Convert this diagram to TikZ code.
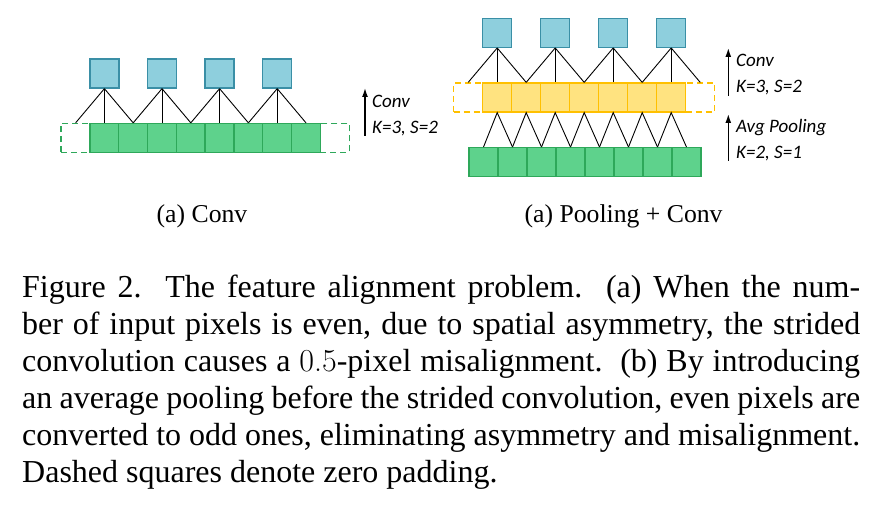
\documentclass[tikz,border=0pt]{standalone}
\usepackage{fontspec}
\setmainfont{Liberation Serif}
\newfontfamily\calibri{Carlito}
\newfontfamily\lmr{Latin Modern Roman}
\usetikzlibrary{arrows.meta}

\definecolor{cellblue}{HTML}{8ECFDD}
\definecolor{cellblueline}{HTML}{3A8FA6}
\definecolor{cellgreen}{HTML}{5ED28C}
\definecolor{cellgreenline}{HTML}{2EA85A}
\definecolor{cellyellow}{HTML}{FFE380}
\definecolor{cellyellowline}{HTML}{FFC000}

\tikzset{
  cell/.style={rectangle, minimum size=29pt, inner sep=0pt, line width=1.3pt},
  bluecell/.style={cell, fill=cellblue, draw=cellblueline},
  greencell/.style={cell, fill=cellgreen, draw=cellgreenline},
  yellowcell/.style={cell, fill=cellyellow, draw=cellyellowline},
  greenpad/.style={cell, draw=cellgreenline, dash pattern=on 6pt off 4pt},
  yellowpad/.style={cell, draw=cellyellowline, dash pattern=on 6pt off 4pt},
  link/.style={line width=0.9pt},
  opname/.style={font=\calibri\itshape\fontsize{19}{23}\selectfont, anchor=base west, inner sep=0pt},
  subcap/.style={font=\fontsize{25.7}{30}\selectfont, anchor=base, inner sep=0pt},
  uparrow/.style={-{Latex[length=9pt,width=6pt]}, line width=1.4pt}
}

\begin{document}
\begin{tikzpicture}[x=1pt,y=-1pt]
    \useasboundingbox (0,0) rectangle (889,508);

    % (a) Conv: padded input row
    \node[greenpad] (lg0) at (75.6,138) {};
    \node[greenpad] (lg9) at (334.8,138) {};
    \foreach \i in {1,...,8}
        \node[greencell] (lg\i) at ({75.6+28.8*\i},138) {};

    % (a) Conv: output row
    \foreach \k in {1,...,4}
        \node[bluecell] (lb\k) at ({46.8+57.6*\k},73.5) {};

    % Conv kernel links
    \foreach \k in {1,...,4}
        \foreach \d in {-2,-1,0} {
            \pgfmathtruncatemacro\j{2*\k+\d}
            \draw[link] (lb\k.south) -- (lg\j.north);
        }

    % Conv label
    \coordinate (la0) at (365,136);
    \coordinate (la1) at (365,88);
    \draw[uparrow] (la0) -- (la1);
    \node[opname] (lconv) at (372,108) {Conv};
    \node[opname] (lks) at (372,134) {K=3, S=2};

    % (b) Pooling + Conv: pooled row with padding
    \node[yellowpad] (ry0) at (468.2,97.5) {};
    \node[yellowpad] (ry8) at (700.2,97.5) {};
    \foreach \i in {1,...,7}
        \node[yellowcell] (ry\i) at ({468.2+29*\i},97.5) {};

    % input row
    \foreach \i in {1,...,8}
        \node[greencell] (rg\i) at ({454.5+29*\i},162.2) {};

    % output row
    \foreach \k in {1,...,4}
        \node[bluecell] (rb\k) at ({439.2+58*\k},32.8) {};

    % Conv kernel links
    \foreach \k in {1,...,4}
        \foreach \d in {-2,-1,0} {
            \pgfmathtruncatemacro\j{2*\k+\d}
            \draw[link] (rb\k.south) -- (ry\j.north);
        }

    % Pooling links
    \foreach \i in {1,...,7} {
        \pgfmathtruncatemacro\n{\i+1}
        \draw[link] (rg\i.north) -- (ry\i.south) -- (rg\n.north);
    }

    % Operation labels
    \coordinate (ra0) at (728.3,96);
    \coordinate (ra1) at (728.3,48);
    \draw[uparrow] (ra0) -- (ra1);
    \node[opname] (rconv) at (736,67) {Conv};
    \node[opname] (rks) at (736,93) {K=3, S=2};
    \coordinate (rp0) at (728.3,161);
    \coordinate (rp1) at (728.3,114);
    \draw[uparrow] (rp0) -- (rp1);
    \node[opname] (rpool) at (736,133) {Avg Pooling};
    \node[opname] (rks2) at (736,159) {K=2, S=1};

    % Sub-captions
    \node[subcap] (capa) at (202,222) {(a) Conv};
    \node[subcap] (capb) at (623.6,222) {(a) Pooling + Conv};

    % Caption
    \node[anchor=north west, inner sep=0pt, text width=838pt, align=justify,
          font=\fontsize{32}{37}\selectfont] (caption) at (22,275)
        {Figure 2.\ \ The feature alignment problem.\ \ (a) When the num-\linebreak
         ber of input pixels is even, due to spatial asymmetry, the strided\linebreak
         convolution causes a {\lmr 0.5}-pixel misalignment.\ \ (b) By introducing\linebreak
         an average pooling before the strided convolution, even pixels are\linebreak
         converted to odd ones, eliminating asymmetry and misalignment.\linebreak
         Dashed squares denote zero padding.};
\end{tikzpicture}
\end{document}
